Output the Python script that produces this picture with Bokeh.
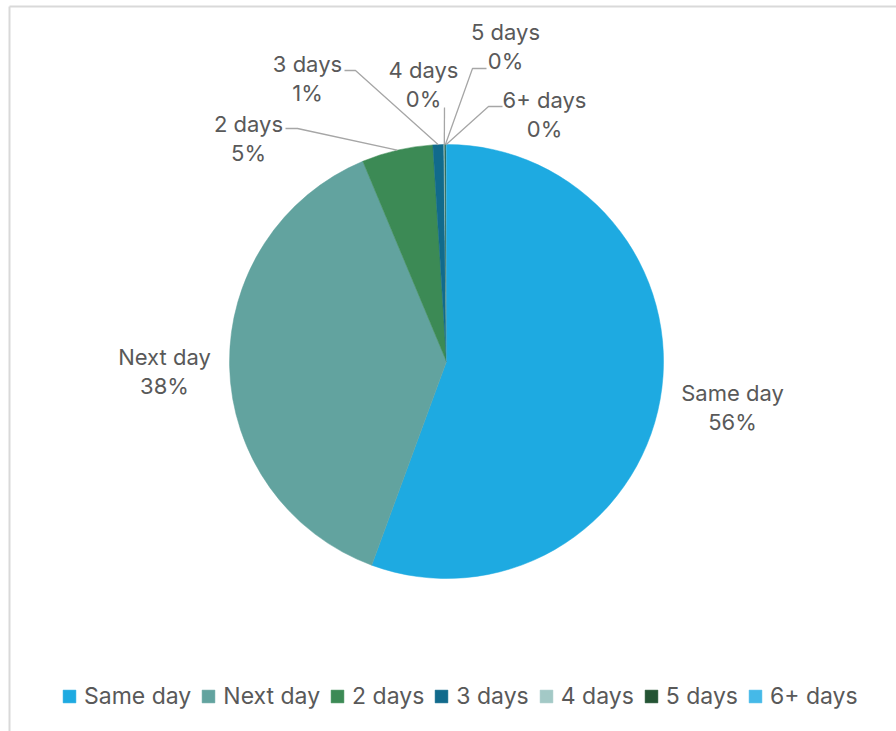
import math
from bokeh.plotting import figure
from bokeh.models import Legend, LegendItem
from bokeh.core.properties import value
from bokeh.embed import file_html
from bokeh.resources import INLINE

# ---- data ----
categories = ["Same day", "Next day", "2 days", "3 days", "4 days", "5 days", "6+ days"]
shares = [55.6, 38.1, 5.3, 0.8, 0.08, 0.08, 0.04]
colors = ["#1EAAE1", "#62A39F", "#3C8A55", "#116A8C", "#A3C9C6", "#245434", "#45B9E8"]

# ---- layout (screen pixels, top-left origin) ----
W, H = 896, 731
CX, CY, R = 446, 361, 217
FONT = "Inter"
TXT = "#595959"
LEADER = "#A6A6A6"
# label centre of first line; optional leader: (start_x, start_y, elbow_x)
label_pos = [(732, 392), (164, 356), (248, 123), (307, 63), (423, 69), (505, 31), (544, 99)]
leaders = [None, None, (285, 128, 297), (344, 70, 355), (444, 107, 444), (486, 68, 472), (502, 106, 488)]
LINE_GAP = 29


def Y(py):
    return H - py


p = figure(width=W, height=H, x_range=(0, W), y_range=(0, H),
           output_backend="svg", toolbar_location=None, min_border=0,
           outline_line_color=None, background_fill_color="white")
p.axis.visible = False
p.grid.visible = False

# frame border
p.segment(x0=[9, 9], y0=[Y(6), Y(6)], x1=[W, 9], y1=[Y(6), 0], line_color="#D9D9D9", line_width=2)

total = sum(shares)
cum = 0.0
items = []
for i, (cat, s, c) in enumerate(zip(categories, shares, colors)):
    f0 = cum / total
    f1 = (cum + s) / total
    cum += s
    start = math.pi / 2 - 2 * math.pi * f1
    end = math.pi / 2 - 2 * math.pi * f0
    r = p.wedge(x=[CX], y=[Y(CY)], radius=R, start_angle=start, end_angle=end,
                fill_color=c, line_color=c, line_width=0.5)
    items.append(LegendItem(label=cat, renderers=[r]))

    # leader line from label to slice edge at mid angle
    mid = math.pi / 2 - 2 * math.pi * (f0 + f1) / 2
    ex = CX + R * math.cos(mid)
    ey = Y(CY) + R * math.sin(mid)
    ld = leaders[i]
    if ld is not None:
        sx, sy, elx = ld
        p.line(x=[sx, elx, ex], y=[Y(sy), Y(sy), ey], line_color=LEADER, line_width=1.3)

    lx, ly = label_pos[i]
    pct = f"{round(100 * s / total):.0f}%"
    p.text(x=[lx, lx], y=[Y(ly), Y(ly + LINE_GAP)], text=[cat, pct],
           text_font=value(FONT), text_font_size="22px", text_color=TXT,
           text_align="center", text_baseline="middle")

legend = Legend(items=items, orientation="horizontal", location=(61, 21),
                glyph_width=16, glyph_height=16, label_standoff=7, spacing=9,
                padding=0, margin=0, border_line_color=None, background_fill_alpha=0,
                label_text_font=FONT, label_text_font_size="23px", label_text_color=TXT)
p.add_layout(legend)

open("out.html", "w").write(file_html(p, INLINE))
